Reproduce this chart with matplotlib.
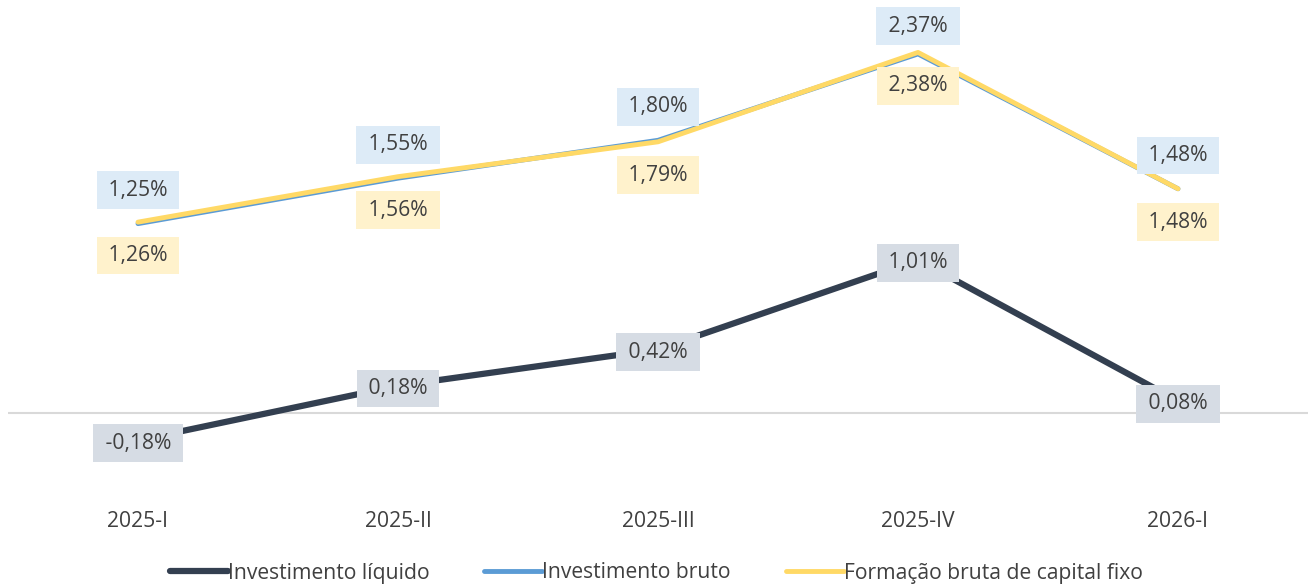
import matplotlib.pyplot as plt
import numpy as np

# Dados
trimestres = ['2025-I', '2025-II', '2025-III', '2025-IV', '2026-I']
inv_liquido = [-0.18, 0.18, 0.42, 1.01, 0.08]
inv_bruto = [1.25, 1.55, 1.80, 2.37, 1.48]
fbcf = [1.26, 1.56, 1.79, 2.38, 1.48]

plt.rcParams['font.family'] = ['Open Sans', 'DejaVu Sans']

cor_liq = '#333F50'
cor_bruto = '#5B9BD5'
cor_fbcf = '#FFD966'
cor_texto = '#404040'
fs = 15.2

fig = plt.figure(figsize=(13.1, 5.88), dpi=100)
ax = fig.add_axes([8 / 1310, 98 / 588, 1300 / 1310, 480 / 588])

x = np.arange(len(trimestres))

ax.axhline(0, color='#D9D9D9', lw=1.5, zorder=1)
ax.plot(x, inv_liquido, color=cor_liq, lw=4.5, solid_capstyle='round', label='Investimento líquido', zorder=3)
ax.plot(x, inv_bruto, color=cor_bruto, lw=3.5, solid_capstyle='round', label='Investimento bruto', zorder=2)
ax.plot(x, fbcf, color=cor_fbcf, lw=3.5, solid_capstyle='round', label='Formação bruta de capital fixo', zorder=2.5)

def fmt(v):
    return '\u2009' + f'{v:.2f}%'.replace('.', ',') + '\u2009'

for xi, v in zip(x, inv_bruto):
    off = 20 if v > 2.2 else 24
    ax.annotate(fmt(v), (xi, v), xytext=(0, off), textcoords='offset points',
                ha='center', va='center', fontsize=fs, color=cor_texto, zorder=5,
                bbox=dict(boxstyle='square,pad=0.4', fc='#DDEBF7', ec='none'))
for xi, v in zip(x, fbcf):
    ax.annotate(fmt(v), (xi, v), xytext=(0, -24), textcoords='offset points',
                ha='center', va='center', fontsize=fs, color=cor_texto, zorder=5,
                bbox=dict(boxstyle='square,pad=0.4', fc='#FFF2CC', ec='none'))
for xi, v in zip(x, inv_liquido):
    ax.annotate(fmt(v), (xi, v), xytext=(0, -2), textcoords='offset points',
                ha='center', va='center', fontsize=fs, color=cor_texto, zorder=5,
                bbox=dict(boxstyle='square,pad=0.4', fc='#D6DCE4', ec='none'))

ax.set_xlim(-0.5, 4.5)
ax.set_ylim(-0.508, 2.66)
ax.set_xticks(x)
ax.set_xticklabels(trimestres, fontsize=fs, color=cor_texto)
ax.tick_params(axis='x', length=0, pad=15)
ax.set_yticks([])
for s in ax.spines.values():
    s.set_visible(False)

fig.legend(loc='center', bbox_to_anchor=(0.501, 15 / 588), ncol=3, frameon=False,
           fontsize=fs, handlelength=2.75, handletextpad=0.0, columnspacing=2.6,
           labelcolor=cor_texto)

fig.savefig('out.png', dpi=100)
